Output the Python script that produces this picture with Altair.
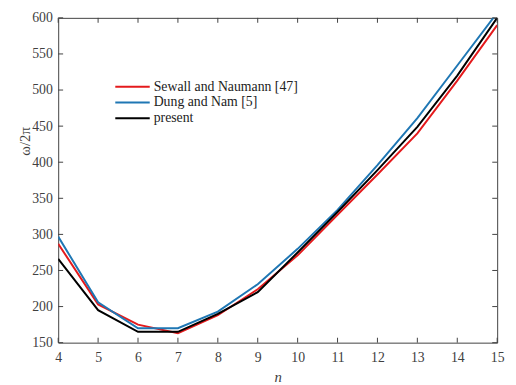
import altair as alt
import pandas as pd

n_vals = [4, 5, 6, 7, 8, 9, 10, 11, 12, 13, 14, 15]
sewall = [287, 203, 175, 163, 188, 224, 271, 327, 383, 440, 513, 590]
dung = [297, 206, 170, 170, 193, 231, 280, 334, 396, 461, 534, 607]
present = [266, 195, 165, 165, 190, 220, 275, 331, 389, 449, 520, 600]

series_names = ["Sewall and Naumann [47]", "Dung and Nam [5]", "present"]
series_colors = ["#e41a1c", "#1f77b4", "#000000"]
x_ticks = [4, 5, 6, 7, 8, 9, 10, 11, 12, 13, 14, 15]
y_ticks = [150, 200, 250, 300, 350, 400, 450, 500, 550, 600]

W, H = 446, 330
FONT = "Liberation Serif"
AX = "#404040"

rows = []
for name, vals in zip(series_names, [sewall, dung, present]):
    for n, v in zip(n_vals, vals):
        rows.append({"n": n, "value": v, "series": name})
df = pd.DataFrame(rows)

xscale = alt.Scale(domain=[4, 15], nice=False, zero=False)
yscale = alt.Scale(domain=[150, 600], nice=False, zero=False)

lab = dict(labelFont=FONT, labelFontSize=14, labelColor=AX,
           titleFont=FONT, titleFontSize=15, titleColor=AX, titleFontWeight="normal")

xaxis = alt.Axis(values=x_ticks, title="n", ticks=False, domain=False, grid=False,
                 labelPadding=8, labelOverlap=False, labelFlush=False,
                 titleFontStyle="italic", titlePadding=5, **lab)
yaxis = alt.Axis(values=y_ticks, title="ω/2π", ticks=False, domain=False, grid=False,
                 labelPadding=6, labelOverlap=False, labelFlush=False,
                 titleX=-26, titleY=125, **lab)

lines = alt.Chart(df).mark_line(strokeWidth=2, clip=True).encode(
    x=alt.X("n:Q", scale=xscale, axis=xaxis, title="n"),
    y=alt.Y("value:Q", scale=yscale, axis=yaxis, title="ω/2π"),
    color=alt.Color("series:N", scale=alt.Scale(domain=series_names, range=series_colors), legend=None),
    order=alt.Order("n:Q"),
)

xt = pd.DataFrame({"t": x_ticks})
yt = pd.DataFrame({"t": y_ticks})
tick_style = dict(color=AX, strokeWidth=1)
xb = alt.Chart(xt).mark_rule(**tick_style).encode(
    x=alt.X("t:Q", scale=xscale, axis=xaxis, title="n"), y=alt.value(H), y2=alt.value(H - 5))
xtop = alt.Chart(xt).mark_rule(**tick_style).encode(
    x=alt.X("t:Q", scale=xscale, axis=xaxis, title="n"), y=alt.value(0), y2=alt.value(5))
yl = alt.Chart(yt).mark_rule(**tick_style).encode(
    y=alt.Y("t:Q", scale=yscale, axis=yaxis, title="ω/2π"), x=alt.value(0), x2=alt.value(5))
yr = alt.Chart(yt).mark_rule(**tick_style).encode(
    y=alt.Y("t:Q", scale=yscale, axis=yaxis, title="ω/2π"), x=alt.value(W), x2=alt.value(W - 5))

legend_layers = []
leg_y = [70, 86, 102]
for name, col, ly in zip(series_names, series_colors, leg_y):
    d = pd.DataFrame({"label": [name]})
    legend_layers.append(
        alt.Chart(d).mark_rule(color=col, strokeWidth=2).encode(
            x=alt.value(58), x2=alt.value(93), y=alt.value(ly)))
    legend_layers.append(
        alt.Chart(d).mark_text(align="left", baseline="middle", font=FONT,
                               fontSize=14, color="#222222").encode(
            x=alt.value(97), y=alt.value(ly), text="label:N"))

chart = alt.layer(lines, xb, xtop, yl, yr, *legend_layers).properties(
    width=W, height=H,
    background="white",
    autosize=alt.AutoSizeParams(type="none"),
    padding={"left": 51, "top": 7, "right": 11, "bottom": 40},
).configure_view(stroke=AX, strokeWidth=1)

chart.save("out.html", embed_options={"renderer": "svg", "actions": False})
